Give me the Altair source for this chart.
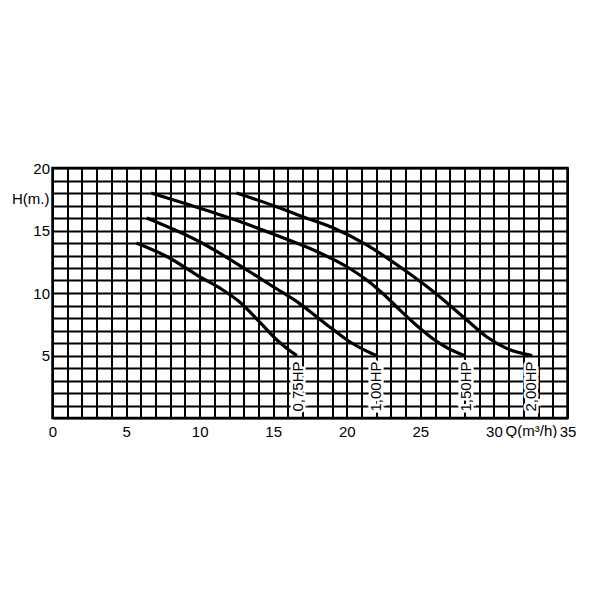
import altair as alt
import pandas as pd

# ---- data ----
x_grid = list(range(0, 36))
y_grid = list(range(0, 21))

series_names = ["0,75HP", "1,00HP", "1,50HP", "2,00HP"]

q_075 = [5.7, 7.8, 10.0, 11.5, 12.7, 14.1, 15.2, 16.0, 16.6]
h_075 = [14.0, 12.9, 11.3, 10.3, 9.3, 7.65, 6.3, 5.5, 5.0]

q_100 = [6.4, 10.0, 13.4, 15.0, 16.8, 17.95, 19.1, 20.2, 21.35, 22.0]
h_100 = [16.0, 14.1, 11.7, 10.5, 9.15, 8.1, 7.05, 6.1, 5.35, 5.0]

q_150 = [6.7, 8.9, 12.3, 15.7, 18.0, 20.0, 21.4, 22.5, 23.6, 24.75, 25.9, 27.0, 28.0]
h_150 = [18.0, 17.2, 15.9, 14.4, 13.3, 12.1, 11.0, 9.9, 8.65, 7.4, 6.3, 5.5, 5.0]

q_200 = [12.5, 15.0, 17.0, 19.1, 21.35, 23.6, 25.9, 28.1, 29.5, 30.9, 32.6]
h_200 = [18.0, 17.0, 16.1, 15.2, 13.85, 12.1, 10.1, 7.9, 6.5, 5.55, 5.0]

label_q = [16.7, 22.0, 28.1, 32.55]

rows = []
for name, qs, hs in zip(series_names, [q_075, q_100, q_150, q_200], [h_075, h_100, h_150, h_200]):
    for i, (q, h) in enumerate(zip(qs, hs)):
        rows.append({"series": name, "i": i, "q": q, "h": h})
curves = pd.DataFrame(rows)

labels = pd.DataFrame({
    "series": series_names,
    "q": label_q,
    "h": [hs[-1] for hs in [h_075, h_100, h_150, h_200]],
})

extra = pd.DataFrame({"txt": ["H(m.)"], "q": [0.0], "h": [17.5]})
qlab = pd.DataFrame({"txt": ["Q(m³/h)"], "q": [32.55], "h": [0.0]})

FONT = "Liberation Sans"

xs = alt.Scale(domain=[0, 35], nice=False, zero=False)
ys = alt.Scale(domain=[0, 20], nice=False, zero=False)

x_axis = alt.Axis(
    values=x_grid, tickCount=len(x_grid), grid=True, title=None,
    labelOverlap=False, labelFlush=False,
    labelExpr="datum.value % 5 == 0 ? datum.label : ''", labelPadding=6,
)
y_axis = alt.Axis(
    values=y_grid, tickCount=len(y_grid), grid=True, title=None,
    labelOverlap=False, labelFlush=False,
    labelExpr="(datum.value % 5 == 0 && datum.value > 0) ? datum.label : ''", labelPadding=3,
)

lines = alt.Chart(curves).mark_line(
    color="black", strokeWidth=3.2, interpolate="monotone"
).encode(
    x=alt.X("q:Q", scale=xs, axis=x_axis),
    y=alt.Y("h:Q", scale=ys, axis=y_axis),
    detail="series:N",
    order="i:Q",
)

halo = alt.Chart(labels).mark_text(
    angle=270, align="right", baseline="middle", dx=-6,
    font=FONT, fontSize=15, stroke="white", strokeWidth=5, color="white",
).encode(x="q:Q", y="h:Q", text="series:N")

txt = alt.Chart(labels).mark_text(
    angle=270, align="right", baseline="middle", dx=-6,
    font=FONT, fontSize=15, color="black",
).encode(x="q:Q", y="h:Q", text="series:N")

hlab = alt.Chart(extra).mark_text(
    align="right", baseline="middle", dx=-3, font=FONT, fontSize=15, color="black",
).encode(x="q:Q", y="h:Q", text="txt:N")

qtext = alt.Chart(qlab).mark_text(
    align="center", baseline="top", dy=6, font=FONT, fontSize=15, color="black",
).encode(x="q:Q", y="h:Q", text="txt:N")

chart = alt.layer(lines, halo, txt, hlab, qtext).properties(
    width=515,
    height=250,
    padding={"left": 44.5, "top": 160, "right": 20, "bottom": 20},
    autosize=alt.AutoSizeParams(type="none"),
    background="white",
).configure_view(
    stroke="black", strokeWidth=2.5
).configure_axis(
    domain=False, ticks=False, gridColor="black", gridWidth=2, gridOpacity=1,
    labelFont=FONT, labelFontSize=15, labelColor="black",
)

chart.save("out.html", embed_options={"renderer": "svg", "actions": False})
